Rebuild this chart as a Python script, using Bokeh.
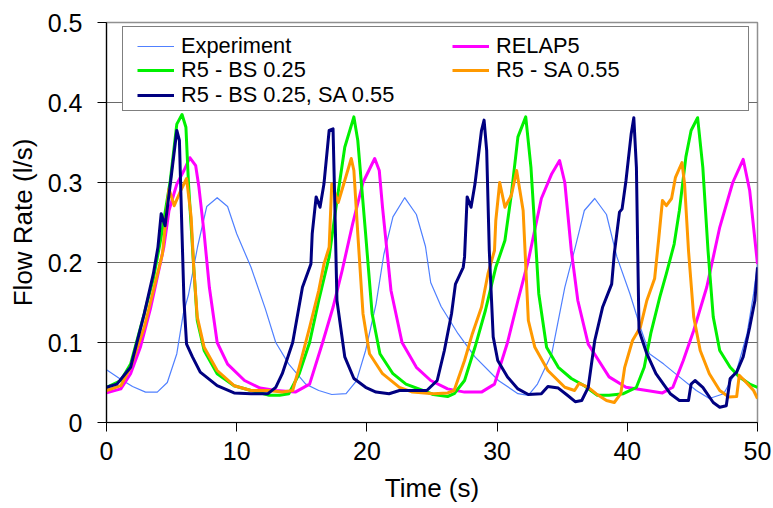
from bokeh.plotting import figure
from bokeh.models import Range1d, FixedTicker, NumeralTickFormatter, Legend, LegendItem
from bokeh.embed import file_html
from bokeh.resources import INLINE

# ---- data (time s, flow l/s) ----
experiment = [(0.0, 0.066), (1.0, 0.055), (2.0, 0.045), (3.0, 0.038), (3.9, 0.038), (4.67, 0.05),
              (5.4, 0.086), (5.9, 0.136), (6.3, 0.16), (7.0, 0.22), (7.7, 0.27), (8.5, 0.281),
              (9.3, 0.27), (10.0, 0.236), (11.1, 0.194), (12.2, 0.142), (13.0, 0.1), (14.0, 0.073),
              (15.3, 0.048), (16.3, 0.04), (17.3, 0.035), (18.4, 0.036), (19.2, 0.052), (19.9, 0.09),
              (20.7, 0.148), (21.3, 0.21), (22.0, 0.257), (22.9, 0.281), (23.8, 0.26), (24.5, 0.22),
              (24.9, 0.175), (25.7, 0.145), (27.0, 0.111), (28.3, 0.082), (30.1, 0.0525), (31.6, 0.036),
              (32.4, 0.034), (33.1, 0.048), (34.2, 0.086), (35.2, 0.169), (36.0, 0.219), (36.7, 0.265),
              (37.5, 0.28), (38.4, 0.26), (39.2, 0.207), (40.2, 0.161), (41.0, 0.119), (41.7, 0.086),
              (42.8, 0.073), (44.0, 0.057), (45.3, 0.04), (46.3, 0.03), (47.4, 0.036), (48.4, 0.065),
              (49.2, 0.111), (49.7, 0.161), (50.0, 0.198)]

relap5 = [(0.0, 0.037), (1.1, 0.042), (1.85, 0.061), (2.6, 0.094), (3.4, 0.144), (4.4, 0.219),
          (4.8, 0.265), (5.4, 0.298), (5.95, 0.315), (6.4, 0.331), (6.85, 0.321), (7.1, 0.294),
          (7.5, 0.236), (7.9, 0.169), (8.5, 0.1), (9.3, 0.073), (10.6, 0.0525), (11.8, 0.043),
          (13.0, 0.04), (14.5, 0.038), (15.6, 0.048), (16.6, 0.1), (17.4, 0.144), (18.1, 0.19),
          (18.9, 0.248), (19.7, 0.3), (20.6, 0.33), (20.95, 0.315), (21.2, 0.269), (21.85, 0.165),
          (22.7, 0.1), (23.8, 0.069), (24.9, 0.0525), (26.2, 0.042), (27.5, 0.038), (28.8, 0.038),
          (29.8, 0.048), (30.8, 0.1), (31.6, 0.1525), (32.4, 0.2025), (33.4, 0.28), (34.2, 0.311),
          (34.8, 0.3275), (35.2, 0.3), (35.7, 0.215), (36.2, 0.1525), (37.0, 0.098), (37.8, 0.0775),
          (38.6, 0.057), (39.9, 0.044), (41.5, 0.04), (42.7, 0.037), (43.5, 0.044), (44.3, 0.0775),
          (45.1, 0.115), (46.1, 0.169), (47.1, 0.244), (48.1, 0.3), (48.9, 0.329), (49.4, 0.29),
          (50.0, 0.198)]

r5_bs = [(0.0, 0.044), (1.1, 0.0525), (1.85, 0.073), (2.9, 0.136), (3.6, 0.18), (4.15, 0.2275),
         (4.9, 0.3025), (5.4, 0.373), (5.8, 0.385), (6.1, 0.369), (6.3, 0.298), (6.7, 0.194),
         (6.97, 0.1275), (7.5, 0.09), (8.5, 0.061), (9.8, 0.046), (11.1, 0.04), (12.5, 0.034),
         (13.3, 0.034), (14.0, 0.036), (14.8, 0.061), (15.6, 0.1), (16.3, 0.1525), (17.1, 0.207),
         (17.7, 0.2775), (18.3, 0.344), (19.0, 0.382), (19.3, 0.3525), (19.9, 0.236), (20.4, 0.136),
         (21.0, 0.086), (22.0, 0.061), (23.0, 0.048), (24.3, 0.04), (25.1, 0.035), (26.2, 0.0325),
         (26.7, 0.036), (27.5, 0.0525), (28.3, 0.094), (29.1, 0.14), (29.9, 0.194), (30.6, 0.2275),
         (31.1, 0.286), (31.6, 0.357), (32.2, 0.382), (32.6, 0.319), (33.0, 0.215), (33.2, 0.161),
         (33.8, 0.094), (34.7, 0.069), (35.7, 0.055), (36.7, 0.046), (37.7, 0.034), (38.6, 0.034),
         (39.7, 0.036), (40.7, 0.044), (41.3, 0.069), (41.8, 0.111), (42.5, 0.157), (43.0, 0.186),
         (43.6, 0.223), (44.0, 0.265), (44.5, 0.332), (44.9, 0.365), (45.4, 0.381), (45.8, 0.319),
         (46.2, 0.215), (46.6, 0.132), (47.1, 0.09), (47.9, 0.069), (48.6, 0.057), (49.4, 0.048),
         (50.0, 0.044)]

r5_sa = [(0.0, 0.04), (1.1, 0.046), (1.85, 0.069), (2.9, 0.119), (3.6, 0.165), (4.3, 0.211),
         (4.5, 0.244), (4.8, 0.292), (5.2, 0.271), (5.7, 0.29), (6.15, 0.305), (6.5, 0.257),
         (6.7, 0.194), (6.97, 0.132), (7.5, 0.094), (8.5, 0.065), (9.8, 0.046), (11.1, 0.04),
         (12.4, 0.04), (13.5, 0.038), (14.3, 0.04), (14.8, 0.069), (15.6, 0.119), (16.3, 0.165),
         (16.7, 0.198), (17.1, 0.219), (17.3, 0.298), (17.8, 0.275), (18.3, 0.3025), (18.8, 0.33),
         (19.0, 0.315), (19.3, 0.236), (19.7, 0.136), (20.2, 0.086), (21.2, 0.061), (22.5, 0.044),
         (23.5, 0.038), (25.1, 0.036), (26.2, 0.037), (26.7, 0.04), (27.5, 0.0775), (28.1, 0.111),
         (28.8, 0.144), (29.3, 0.186), (29.8, 0.215), (29.9, 0.2525), (30.2, 0.3), (30.6, 0.269),
         (31.1, 0.284), (31.5, 0.315), (32.0, 0.265), (32.4, 0.1275), (32.9, 0.094), (33.9, 0.065),
         (35.2, 0.044), (35.95, 0.04), (36.3, 0.049), (37.0, 0.044), (37.6, 0.036), (38.4, 0.0275),
         (39.0, 0.025), (39.5, 0.036), (39.8, 0.069), (40.4, 0.1025), (41.0, 0.119), (41.5, 0.1525),
         (42.1, 0.18), (42.4, 0.2275), (42.7, 0.2775), (43.0, 0.271), (43.4, 0.28), (43.7, 0.3065),
         (44.2, 0.325), (44.4, 0.298), (44.7, 0.215), (45.1, 0.132), (45.6, 0.09), (46.3, 0.061),
         (47.1, 0.04), (47.8, 0.032), (48.4, 0.0325), (48.6, 0.059), (49.0, 0.0525), (49.7, 0.04),
         (50.0, 0.03)]

r5_bs_sa = [(0.0, 0.044), (0.8, 0.048), (1.85, 0.069), (2.9, 0.136), (3.6, 0.186), (3.95, 0.219),
            (4.2, 0.261), (4.5, 0.246), (4.9, 0.298), (5.4, 0.365), (5.6, 0.3525), (5.8, 0.236),
            (5.95, 0.1525), (6.15, 0.098), (6.6, 0.082), (7.2, 0.063), (8.5, 0.046), (9.8, 0.037),
            (11.1, 0.036), (12.4, 0.036), (13.0, 0.044), (13.5, 0.061), (14.3, 0.1), (15.05, 0.169),
            (15.7, 0.198), (15.8, 0.236), (16.1, 0.282), (16.4, 0.269), (16.7, 0.298), (17.1, 0.365),
            (17.4, 0.367), (17.5, 0.298), (17.7, 0.1525), (18.3, 0.082), (19.0, 0.055), (19.9, 0.044),
            (20.7, 0.038), (21.7, 0.036), (22.5, 0.04), (23.6, 0.04), (24.6, 0.04), (25.4, 0.0525),
            (25.95, 0.09), (26.5, 0.136), (26.8, 0.173), (27.4, 0.194), (27.5, 0.207), (27.7, 0.282),
            (28.0, 0.269), (28.3, 0.298), (28.8, 0.365), (29.0, 0.378), (29.2, 0.34), (29.4, 0.215),
            (29.7, 0.107), (30.05, 0.0775), (30.8, 0.057), (31.6, 0.042), (32.4, 0.035), (33.4, 0.036),
            (33.9, 0.045), (34.7, 0.043), (35.4, 0.034), (36.0, 0.026), (36.5, 0.0275), (37.0, 0.044),
            (37.5, 0.1025), (38.1, 0.144), (38.8, 0.173), (39.0, 0.2108), (39.4, 0.263), (39.6, 0.267),
            (39.9, 0.3025), (40.3, 0.361), (40.5, 0.381), (40.7, 0.319), (40.8, 0.215), (40.9, 0.115),
            (41.5, 0.086), (42.2, 0.061), (43.3, 0.036), (44.0, 0.0275), (44.7, 0.0275), (44.9, 0.048),
            (45.2, 0.0525), (45.8, 0.044), (46.6, 0.025), (47.1, 0.019), (47.6, 0.021), (47.9, 0.055),
            (48.4, 0.063), (48.9, 0.082), (49.4, 0.119), (49.8, 0.1525), (50.0, 0.194)]

x_ticks = [0, 10, 20, 30, 40, 50]
y_ticks = [0, 0.1, 0.2, 0.3, 0.4, 0.5]
x_title = "Time (s)"
y_title = "Flow Rate (l/s)"

series = [
    ("Experiment", experiment, "#5080ff", 1.2),
    ("RELAP5", relap5, "#ff00ff", 3),
    ("R5 - BS 0.25", r5_bs, "#00f000", 3),
    ("R5 - SA 0.55", r5_sa, "#ff9900", 3),
    ("R5 - BS 0.25, SA 0.55", r5_bs_sa, "#000080", 3),
]

FONT = "Liberation Sans"

p = figure(width=773, height=508, output_backend="svg", toolbar_location=None,
           x_range=Range1d(0, 50), y_range=Range1d(0, 0.5),
           min_border_left=106, min_border_right=16, min_border_top=22, min_border_bottom=86)
p.background_fill_color = "white"
p.border_fill_color = "white"
p.outline_line_color = "#909090"
p.outline_line_width = 1.5

renderers = {}
for name, pts, color, lw in series:
    xs = [a for a, b in pts]
    ys = [b for a, b in pts]
    renderers[name] = p.line(xs, ys, line_color=color, line_width=lw, line_join="round")

# invisible renderer used only for the legend frame
frame_r = p.line(x=[], y=[], line_alpha=0)

p.xgrid.visible = False
p.ygrid.ticker = FixedTicker(ticks=y_ticks[1:-1])
p.ygrid.grid_line_color = "#6a6a6a"
p.ygrid.grid_line_width = 1.2

p.xaxis.ticker = FixedTicker(ticks=x_ticks)
p.yaxis.ticker = FixedTicker(ticks=y_ticks)
p.yaxis.formatter = NumeralTickFormatter(format="0.[0]")
for ax in (p.xaxis[0], p.yaxis[0]):
    ax.axis_line_color = "black"
    ax.axis_line_width = 1.2
    ax.major_tick_line_color = "black"
    ax.major_tick_out = 9
    ax.major_tick_in = 0
    ax.minor_tick_out = 0
    ax.minor_tick_in = 0
    ax.major_label_text_font = FONT
    ax.major_label_text_font_size = "25px"
    ax.major_label_text_color = "black"
    ax.axis_label_text_font = FONT
    ax.axis_label_text_font_size = "26px"
    ax.axis_label_text_font_style = "normal"
    ax.axis_label_text_color = "black"
p.xaxis.axis_label = x_title
p.yaxis.axis_label = y_title
p.xaxis.major_label_standoff = 10
p.yaxis.major_label_standoff = 15
p.xaxis.axis_label_standoff = 10
p.yaxis.axis_label_standoff = 7

# legend frame (white box with black border)
leg0 = Legend(items=[LegendItem(label=" ", renderers=[frame_r])], location=(16, 311))
leg0.padding = 0
leg0.spacing = 0
leg0.margin = 0
leg0.glyph_width = 20
leg0.glyph_height = 83
leg0.label_height = 83
leg0.label_standoff = 0
leg0.label_width = 605
leg0.label_text_font_size = "2px"
leg0.border_line_color = "black"
leg0.border_line_width = 1.2
leg0.background_fill_color = "white"
leg0.background_fill_alpha = 1
leg0.inactive_fill_alpha = 0
p.add_layout(leg0)

# one legend entry per row/column slot, as laid out in the reference
legend_slots = [
    ("Experiment", (31, 361.5)),
    ("RELAP5", (346, 361.5)),
    ("R5 - BS 0.25", (31, 337)),
    ("R5 - SA 0.55", (346, 337)),
    ("R5 - BS 0.25, SA 0.55", (31, 312.5)),
]
for name, loc in legend_slots:
    lg = Legend(items=[LegendItem(label=name, renderers=[renderers[name]])], location=loc)
    lg.label_text_font = FONT
    lg.label_text_font_size = "21.8px"
    lg.label_text_color = "black"
    lg.glyph_width = 37
    lg.glyph_height = 30
    lg.label_height = 30
    lg.label_standoff = 7
    lg.padding = 0
    lg.spacing = 0
    lg.margin = 0
    lg.border_line_alpha = 0
    lg.background_fill_alpha = 0
    lg.inactive_fill_alpha = 0
    p.add_layout(lg)

open("out.html", "w").write(file_html(p, INLINE))
